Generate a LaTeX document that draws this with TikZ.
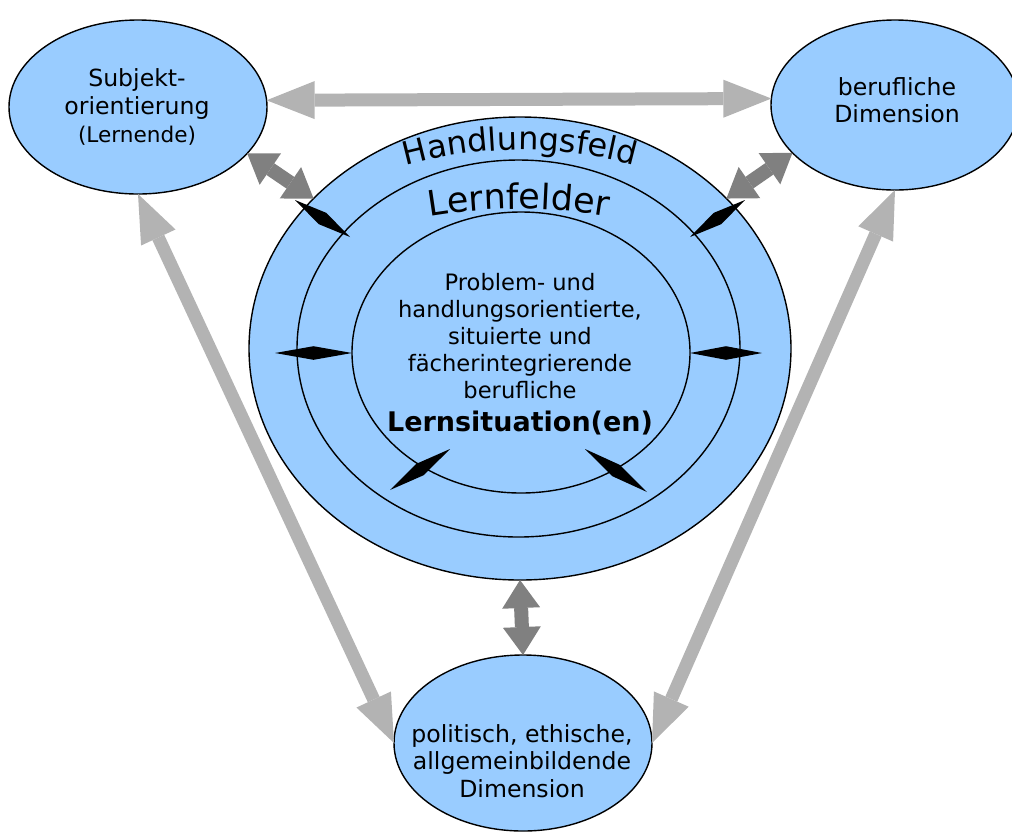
\documentclass[tikz,border=0pt]{standalone}
\usepackage{fontspec}
\setmainfont{DejaVu Sans}
\usetikzlibrary{shapes.geometric,arrows.meta,decorations.text,calc}
\definecolor{ovalblue}{HTML}{99CCFF}
\definecolor{lightarrow}{HTML}{B3B3B3}
\definecolor{darkarrow}{HTML}{808080}
\tikzset{
  oval/.style={shape=ellipse,draw=black,fill=ovalblue,line width=0.7pt,inner sep=0pt,outer sep=0pt},
  txt/.style={align=center,font=\fontsize{11.8pt}{13.8pt}\selectfont},
  farrow/.style={{Triangle[length=24pt,width=19pt,line width=0pt]}-{Triangle[length=24pt,width=19pt,line width=0pt]},line width=6.5pt,draw=lightarrow},
  narrow/.style={{Triangle[length=14pt,width=19pt,line width=0pt]}-{Triangle[length=14pt,width=19pt,line width=0pt]},line width=7pt,draw=darkarrow}
}
\newcommand\spindle[2]{\fill[black] (#1) -- ($(#1)!0.5!(#2)!3.4pt!90:(#2)$) -- (#2) -- ($(#1)!0.5!(#2)!3.4pt!-90:(#2)$) -- cycle;}
\begin{document}
\begin{tikzpicture}[x=0.5pt,y=-0.5pt]
\useasboundingbox (0,0) rectangle (1012,832);
\node[oval,minimum width=271pt,minimum height=231.5pt] (feld) at (520,348.5) {};
\node[oval,minimum width=221.5pt,minimum height=188.5pt] (lfeld) at (518.5,348.5) {};
\node[oval,minimum width=169pt,minimum height=140.5pt] (lsit) at (521,352.5) {};
\node[oval,minimum width=129pt,minimum height=87pt] (subj) at (138,107) {};
\node[oval,minimum width=124pt,minimum height=85pt] (beruf) at (895,105) {};
\node[oval,minimum width=129pt,minimum height=88pt] (polit) at (523,743) {};

\draw[farrow] (subj.3) -- (beruf.177);
\draw[farrow] (subj.south) -- (polit.west);
\draw[farrow] (beruf.south) -- (polit.east);
\draw[narrow] (subj.-23) -- (feld.144);
\draw[narrow] (beruf.205) -- (feld.36);
\draw[narrow] (feld.south) -- (polit.north);

\coordinate (tl1) at (295,200);
\coordinate (tl2) at (350,237);
\coordinate (tr1) at (745,200);
\coordinate (tr2) at (690,237);
\coordinate (ml1) at (275,353);
\coordinate (ml2) at (352,353);
\coordinate (mr1) at (762,353);
\coordinate (mr2) at (690,353);
\coordinate (bl1) at (390,490);
\coordinate (bl2) at (450,449);
\coordinate (br1) at (647,492);
\coordinate (br2) at (585,449);
\spindle{tl1}{tl2}
\spindle{tr1}{tr2}
\spindle{ml1}{ml2}
\spindle{mr1}{mr2}
\spindle{bl1}{bl2}
\spindle{br1}{br2}

\path[decorate,decoration={text along path,text align=center,
  text={|\fontsize{16pt}{19pt}\selectfont|Handlungsfeld}}]
  ($(feld.center)+(160:148pt and 99.25pt)$) arc[start angle=160,end angle=20,x radius=148pt,y radius=99.25pt];
\path[decorate,decoration={text along path,text align=center,
  text={|\fontsize{17.5pt}{20pt}\selectfont|Lernfelder}}]
  ($(lfeld.center)+(150:140pt and 69.75pt)$) arc[start angle=150,end angle=30,x radius=140pt,y radius=69.75pt];

\node[txt] (subjtxt) at (137,107) {Subjekt-\\orientierung\\{\fontsize{10.8pt}{12pt}\selectfont(Lernende)}};
\node[txt] (bertxt) at (897,100) {berufliche\\Dimension};
\node[txt] (poltxt) at (522,761) {politisch, ethische,\\allgemeinbildende\\Dimension};
\node[txt,font=\fontsize{11.3pt}{13.5pt}\selectfont] (sittxt) at (520,354) {Problem- und\\handlungsorientierte,\\situierte und\\fächerintegrierende\\berufliche\\[3pt]{\fontsize{13.5pt}{16pt}\selectfont\bfseries Lernsituation(en)}};
\end{tikzpicture}
\end{document}
